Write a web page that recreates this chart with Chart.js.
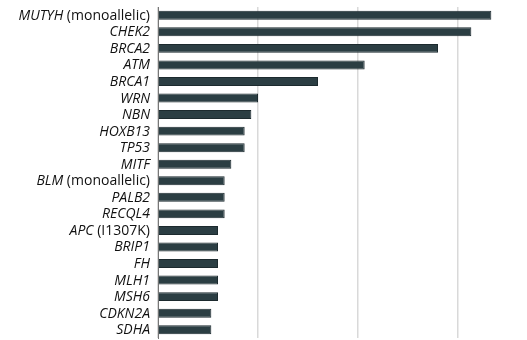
<!DOCTYPE html>
<html>
<head>
<meta charset="utf-8">
<script src="https://cdn.jsdelivr.net/npm/chart.js@4"></script>
<style>
  html, body { margin:0; padding:0; background:#fff; }
  #wrap { width:527px; height:340px; position:relative; }
</style>
</head>
<body>
<div id="wrap"><canvas id="grafico"></canvas></div>
<script>
// ===============================
// DADOS
// ===============================

const genes = ["MUTYH","CHEK2","BRCA2","ATM","BRCA1","WRN","NBN","HOXB13","TP53","MITF",
  "BLM","PALB2","RECQL4","APC","BRIP1","FH","MLH1","MSH6","CDKN2A","SDHA"];

// parte não itálica do rótulo
const sufixos = [" (monoallelic)","","","","","","","","","",
  " (monoallelic)","",""," (I1307K)","","","","","",""];

const valores = [50,47,42,31,24,15,14,13,13,11,10,10,10,9,9,9,9,9,8,8];

const gradeX = [0,15,30,45];

// ===============================
// RÓTULOS MISTOS (itálico + normal)
// ===============================

const rotulos = {
  id:"rotulos",
  afterDraw(chart){
    const ctx = chart.ctx;
    const y = chart.scales.y;
    const fam = "'Open Sans', sans-serif";
    const tam = "14px ";
    ctx.save();
    ctx.fillStyle = "#111";
    ctx.textBaseline = "middle";
    genes.forEach((g,i)=>{
      const py = y.getPixelForTick(i) + 0.5;
      let x = 150;
      ctx.font = tam + fam;
      const suf = sufixos[i];
      if(suf){
        const w = ctx.measureText(suf).width;
        ctx.textAlign = "left";
        ctx.fillText(suf, x - w, py);
        x -= w;
      }
      ctx.font = "italic " + tam + fam;
      ctx.textAlign = "right";
      ctx.fillText(g, x, py);
    });
    ctx.restore();
  }
};

new Chart(document.getElementById("grafico"),{
  type:"bar",
  data:{
    labels:genes,
    datasets:[{
      data:valores,
      backgroundColor:"#2b3e43",
      borderColor:"#1c2a2e",
      borderWidth:1,
      barPercentage:0.54,
      categoryPercentage:1
    }]
  },
  options:{
    indexAxis:"y",
    responsive:true,
    maintainAspectRatio:false,
    animation:false,
    layout:{ padding:{ top:7, bottom:2, left:0, right:29 } },
    plugins:{ legend:{display:false}, tooltip:{enabled:false} },
    scales:{
      x:{
        min:0,
        max:51,
        afterBuildTicks: s => { s.ticks = gradeX.map(v=>({value:v})); },
        ticks:{ display:false },
        grid:{ color:"#d9d9d9", lineWidth:1.5, drawTicks:false },
        border:{ display:false }
      },
      y:{
        ticks:{ display:false },
        grid:{ display:false, drawTicks:false },
        border:{ display:true, color:"#777", width:1 },
        afterFit: s => { s.width = 158; }
      }
    }
  },
  plugins:[rotulos]
});
</script>
</body>
</html>
